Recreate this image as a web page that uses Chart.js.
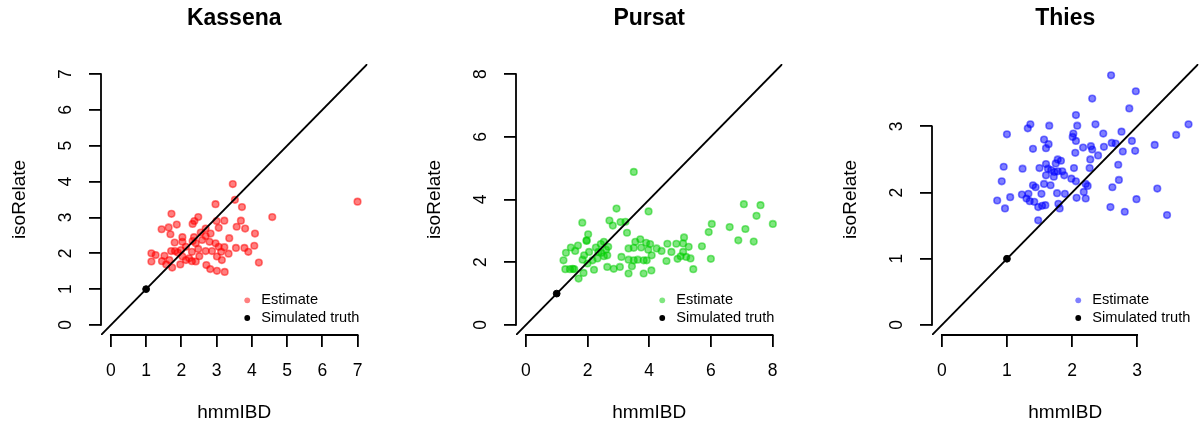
<!DOCTYPE html>
<html>
<head>
<meta charset="utf-8">
<script src="https://cdn.jsdelivr.net/npm/chart.js@4.4.1/dist/chart.umd.min.js"></script>
<style>
  body { margin: 0; background: #fff; width: 1204px; height: 434px; overflow: hidden; position: relative; }
  canvas { position: absolute; top: 0; }
</style>
</head>
<body>
<canvas id="kassena" width="373" height="434" style="left:0px"></canvas>
<canvas id="pursat" width="373" height="434" style="left:415px"></canvas>
<canvas id="thies" width="373" height="434" style="left:831px"></canvas>
<script>
// hmmIBD (x) vs isoRelate (y) estimates
const kassenaX = [3.46, 2.97, 3.52, 3.72, 1.72, 2.48, 2.37, 2.32, 3.00, 3.22, 3.69, 3.57, 3.81, 4.58, 3.06, 1.87, 1.64, 1.44, 1.69, 4.09,
  2.03, 2.36, 2.55, 2.69, 2.83, 3.36, 1.81, 2.03, 2.32, 2.59, 2.80, 2.97, 4.07, 3.55, 3.22, 3.79, 3.90, 1.15, 1.27, 1.52,
  1.71, 1.82, 1.99, 2.13, 2.30, 2.48, 2.69, 2.87, 3.06, 3.13, 3.34, 3.01, 2.51, 2.22, 2.03, 1.15, 1.45, 1.66, 1.74, 1.97,
  2.30, 2.41, 2.71, 2.82, 3.01, 3.23, 3.15, 4.20, 1.57, 2.13, 1.90, 2.69, 2.41, 7.00];
const kassenaY = [3.93, 3.37, 3.49, 3.29, 3.10, 3.01, 2.90, 2.82, 2.90, 2.91, 2.91, 2.74, 2.69, 3.01, 2.71, 2.80, 2.72, 2.67, 2.53, 2.55,
  2.45, 2.45, 2.58, 2.48, 2.55, 2.42, 2.30, 2.32, 2.34, 2.37, 2.32, 2.28, 2.21, 2.15, 2.17, 2.15, 2.04, 2.00, 1.95, 1.93,
  2.06, 2.06, 2.09, 2.18, 2.04, 2.12, 2.06, 2.06, 2.18, 2.04, 1.99, 1.91, 1.92, 1.86, 1.91, 1.77, 1.78, 1.81, 1.60, 1.69,
  1.78, 1.77, 1.67, 1.56, 1.51, 1.48, 1.81, 1.74, 1.69, 1.81, 2.02, 2.69, 2.28, 3.44];

const pursatX = [3.50, 2.94, 3.98, 1.83, 2.71, 2.82, 3.07, 3.23, 3.28, 2.02, 1.97, 1.30, 1.46, 1.69, 1.60, 1.22, 1.84, 1.89, 2.05, 2.27,
  2.43, 2.53, 2.67, 2.35, 2.53, 2.64, 2.32, 2.16, 2.00, 1.28, 1.52, 1.71, 1.87, 2.21, 2.64, 2.85, 3.05, 3.33, 3.10, 3.33,
  3.50, 3.55, 3.71, 3.90, 3.74, 3.97, 4.03, 3.33, 3.50, 3.63, 3.82, 3.92, 4.08, 3.44, 3.82, 4.07, 4.24, 4.40, 4.59, 4.56,
  4.88, 4.92, 4.72, 5.13, 5.10, 5.28, 5.02, 5.10, 5.20, 5.34, 5.43, 5.71, 5.93, 6.03, 6.00, 6.61, 6.89, 7.07, 7.12, 7.39,
  7.48, 7.61, 8.01, 1.43, 1.57, 2.45, 2.60, 1.97];
const pursatY = [4.88, 3.71, 3.62, 3.26, 3.33, 3.17, 3.28, 3.29, 2.94, 2.89, 2.68, 2.30, 2.47, 2.53, 2.36, 2.06, 2.08, 2.22, 2.33, 2.47,
  2.58, 2.65, 2.49, 2.33, 2.19, 2.22, 2.12, 2.06, 1.96, 1.78, 1.79, 1.48, 1.66, 1.76, 1.85, 1.79, 1.85, 1.64, 2.17, 2.44,
  2.46, 2.65, 2.73, 2.62, 2.47, 2.40, 2.58, 2.08, 2.06, 2.08, 2.06, 2.06, 2.22, 1.87, 1.64, 1.74, 2.44, 2.36, 2.59, 2.04,
  2.59, 2.11, 2.33, 2.79, 2.60, 2.49, 2.19, 2.33, 2.17, 2.12, 1.78, 2.51, 2.96, 3.22, 2.11, 3.12, 2.70, 3.85, 3.06, 2.66,
  3.48, 3.82, 3.22, 1.78, 1.78, 2.30, 2.40, 2.70];

const thiesX = [2.06, 2.08, 1.36, 1.32, 1.65, 1.00, 2.02, 2.01, 2.06, 1.57, 1.64, 1.60, 1.40, 2.17, 2.05, 1.78, 1.83, 1.75, 1.60, 1.63,
  1.68, 1.73, 1.78, 1.85, 1.88, 1.72, 1.60, 1.50, 1.24, 0.95, 0.92, 2.03, 1.99, 2.06, 1.40, 1.44, 1.57, 1.67, 1.53, 1.77,
  1.89, 1.23, 1.33, 1.30, 1.35, 1.42, 1.05, 0.85, 0.97, 1.48, 1.54, 1.59, 1.79, 1.81, 1.48, 2.07, 2.18, 2.21,
  2.60, 2.98, 2.31, 2.88, 2.36, 2.48, 2.76, 2.61, 2.67, 2.92, 2.49, 2.29, 2.31, 2.78, 2.97, 2.40, 2.28, 2.71, 2.27, 2.72,
  2.21, 2.24, 2.62, 2.59, 2.81, 2.99, 3.27, 3.31, 3.46, 3.60, 3.79];
const thiesY = [3.17, 3.01, 3.03, 2.97, 3.01, 2.88, 2.89, 2.84, 2.78, 2.80, 2.73, 2.67, 2.66, 2.68, 2.60, 2.50, 2.48, 2.44, 2.43, 2.36,
  2.34, 2.31, 2.32, 2.32, 2.26, 2.24, 2.26, 2.37, 2.36, 2.39, 2.17, 2.37, 2.21, 2.17, 2.11, 2.08, 2.13, 2.11, 1.98, 1.99,
  1.98, 1.97, 1.98, 1.91, 1.87, 1.86, 1.93, 1.88, 1.76, 1.78, 1.80, 1.81, 1.83, 1.76, 1.58, 1.92, 2.01, 1.91,
  3.77, 3.53, 3.42, 3.27, 3.03, 2.89, 2.92, 2.75, 2.74, 2.78, 2.69, 2.70, 2.65, 2.62, 2.63, 2.56, 2.50, 2.42, 2.37, 2.19,
  2.13, 2.10, 2.08, 1.78, 1.71, 1.90, 2.72, 2.06, 1.66, 2.87, 3.03];

// simulated truth, same for every site
const truthX = [1];
const truthY = [1];

// data range of each panel (x and y share it) and its tick labels
const kassenaRange = [0, 7];
const pursatRange = [0, 8];
const thiesRange = [0, 3.79];
const kassenaTicks = [0, 1, 2, 3, 4, 5, 6, 7];
const pursatTicks = [0, 2, 4, 6, 8];
const thiesTicks = [0, 1, 2, 3];

const legendLabels = ['Estimate', 'Simulated truth'];

const FONT = '"Liberation Sans", Arial, Helvetica, sans-serif';

// R-style axis line: only from first to last tick
const rAxisLines = {
  id: 'rAxisLines',
  afterDraw(chart) {
    const {ctx, chartArea, scales} = chart;
    const xt = scales.x.ticks, yt = scales.y.ticks;
    ctx.save();
    ctx.strokeStyle = '#000';
    ctx.lineWidth = 1.8;
    ctx.beginPath();
    ctx.moveTo(scales.x.getPixelForValue(xt[0].value) - 0.9, chartArea.bottom);
    ctx.lineTo(scales.x.getPixelForValue(xt[xt.length - 1].value) + 0.9, chartArea.bottom);
    ctx.moveTo(chartArea.left, scales.y.getPixelForValue(yt[0].value) + 0.9);
    ctx.lineTo(chartArea.left, scales.y.getPixelForValue(yt[yt.length - 1].value) - 0.9);
    ctx.stroke();
    ctx.restore();
  }
};

// legend in the bottom right corner, no box
const rLegend = {
  id: 'rLegend',
  afterDatasetsDraw(chart) {
    const {ctx, chartArea} = chart;
    const items = legendLabels.map(l => chart.data.datasets.find(d => d.label === l));
    ctx.save();
    ctx.font = '14.6px ' + FONT;
    const w = Math.max(...items.map(d => ctx.measureText(d.label).width));
    const textX = chartArea.right - 8 - w;
    items.forEach((d, i) => {
      const y = chartArea.bottom - 17 - (items.length - 1 - i) * 17.7;
      ctx.fillStyle = d.legendColor;
      ctx.beginPath();
      ctx.arc(textX - 14, y, 2.9, 0, Math.PI * 2);
      ctx.fill();
      ctx.fillStyle = '#000';
      ctx.textAlign = 'left';
      ctx.textBaseline = 'middle';
      ctx.fillText(d.label, textX, y);
    });
    ctx.restore();
  }
};

function makeAxis(range, ticks, label, vertical) {
  const pad = (range[1] - range[0]) * 0.04;
  const axis = {
    type: 'linear',
    min: range[0] - pad,
    max: range[1] + pad,
    afterBuildTicks: s => { s.ticks = ticks.map(v => ({value: v})); },
    grid: {drawOnChartArea: false, drawTicks: true, tickLength: 12, color: '#000', lineWidth: 1.8},
    border: {display: false},
    ticks: {
      color: '#000', font: {size: 17.5, family: FONT}, autoSkip: false,
      callback: v => String(v)
    },
    title: {display: true, text: label, color: '#000', font: {size: 19, family: FONT}}
  };
  if (vertical) {
    axis.afterFit = s => { s.width = 101; s.paddingTop = 0; s.paddingBottom = 0; };
    axis.ticks.padding = 18;
    axis.ticks.minRotation = 90;
    axis.ticks.maxRotation = 90;
    axis.ticks.crossAlign = 'center';
    axis.title.padding = {top: 8, bottom: 0};
  } else {
    axis.afterFit = s => { s.height = 89.5; s.paddingLeft = 0; s.paddingRight = 0; };
    axis.ticks.padding = 14;
    axis.ticks.minRotation = 0;
    axis.ticks.maxRotation = 0;
    axis.title.padding = {top: 0, bottom: 0};
  }
  return axis;
}

function makePanel(id, title, xs, ys, range, ticks, color) {
  const pad = (range[1] - range[0]) * 0.04;
  const lo = range[0] - pad, hi = range[1] + pad;
  new Chart(document.getElementById(id), {
    type: 'scatter',
    data: {
      datasets: [{
        label: 'y = x',
        data: [{x: lo, y: lo}, {x: hi, y: hi}],
        showLine: true,
        borderColor: '#000',
        borderWidth: 1.9,
        pointRadius: 0
      }, {
        label: 'Simulated truth',
        data: truthX.map((x, i) => ({x: x, y: truthY[i]})),
        backgroundColor: '#000',
        borderColor: '#000',
        borderWidth: 1,
        pointRadius: 3.4,
        legendColor: '#000'
      }, {
        label: 'Estimate',
        data: xs.map((x, i) => ({x: x, y: ys[i]})),
        backgroundColor: color,
        borderColor: color,
        borderWidth: 1.6,
        pointRadius: 3.3,
        legendColor: color
      }]
    },
    options: {
      responsive: false,
      animation: false,
      devicePixelRatio: 1,
      events: [],
      layout: {padding: {left: 0, right: 2, top: 0, bottom: 9.5}},
      scales: {
        x: makeAxis(range, ticks, 'hmmIBD', false),
        y: makeAxis(range, ticks, 'isoRelate', true)
      },
      plugins: {
        legend: {display: false},
        tooltip: {enabled: false},
        title: {
          display: true, text: title, fullSize: false, color: '#000',
          font: {size: 23, weight: 'bold', family: FONT},
          padding: {top: 4.5, bottom: 31.9}
        }
      }
    },
    plugins: [rAxisLines, rLegend]
  });
}

makePanel('kassena', 'Kassena', kassenaX, kassenaY, kassenaRange, kassenaTicks, 'rgba(255, 0, 0, 0.5)');
makePanel('pursat', 'Pursat', pursatX, pursatY, pursatRange, pursatTicks, 'rgba(0, 205, 0, 0.5)');
makePanel('thies', 'Thies', thiesX, thiesY, thiesRange, thiesTicks, 'rgba(0, 0, 255, 0.5)');
</script>
</body>
</html>
